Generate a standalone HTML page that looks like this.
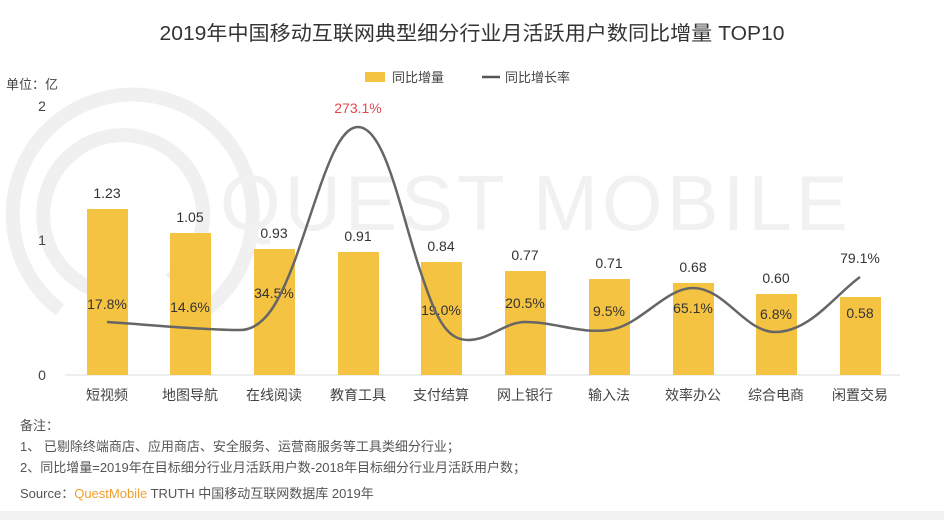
<!DOCTYPE html>
<html><head><meta charset="utf-8"><style>
body{margin:0;background:#fff;}
svg text{font-family:"Liberation Sans","Noto Sans CJK SC",sans-serif;}
</style></head><body>
<svg width="944" height="520" xmlns="http://www.w3.org/2000/svg">
<rect width="944" height="520" fill="#fff"/>
<g fill="none" stroke="#f0f0f0" stroke-width="14">
<path d="M60,310 A120,120 0 1 1 190,320"/>
<path d="M95,290 A80,80 0 1 1 170,280"/>
</g>
<text x="220" y="230" font-size="78" fill="#f1f1f1" letter-spacing="4">QUEST MOBILE</text>
<text x="472" y="40" font-size="20" fill="#333" text-anchor="middle" textLength="625" lengthAdjust="spacingAndGlyphs">2019年中国移动互联网典型细分行业月活跃用户数同比增量 TOP10</text>
<rect x="365" y="72" width="20" height="10" fill="#F5C342"/>
<text x="392" y="82" font-size="13" fill="#444">同比增量</text>
<line x1="482" y1="77" x2="500" y2="77" stroke="#555" stroke-width="2.5"/>
<text x="505" y="82" font-size="13" fill="#444">同比增长率</text>
<text x="6" y="89" font-size="13" fill="#444">单位：亿</text>
<g font-size="14" fill="#444" text-anchor="middle">
<text x="42" y="111">2</text><text x="42" y="245">1</text><text x="42" y="380">0</text>
</g>
<line x1="65" y1="375" x2="900" y2="375" stroke="#ddd" stroke-width="1"/>
<g fill="#F5C342">
<rect x="87" y="209" width="41" height="166"/>
<rect x="170" y="233" width="41" height="142"/>
<rect x="254" y="249" width="41" height="126"/>
<rect x="338" y="252" width="41" height="123"/>
<rect x="421" y="262" width="41" height="113"/>
<rect x="505" y="271" width="41" height="104"/>
<rect x="589" y="279" width="41" height="96"/>
<rect x="673" y="283" width="41" height="92"/>
<rect x="756" y="294" width="41" height="81"/>
<rect x="840" y="297" width="41" height="78"/>
</g>
<g font-size="14" fill="#333" text-anchor="middle">
<text x="107" y="198">1.23</text><text x="190" y="222">1.05</text><text x="274" y="238">0.93</text>
<text x="358" y="241">0.91</text><text x="441" y="251">0.84</text><text x="525" y="260">0.77</text>
<text x="609" y="268">0.71</text><text x="693" y="272">0.68</text><text x="776" y="283">0.60</text>
<text x="860" y="318">0.58</text>
<text x="107" y="309">17.8%</text><text x="190" y="312">14.6%</text><text x="274" y="298">34.5%</text>
<text x="441" y="315">19.0%</text><text x="525" y="308">20.5%</text><text x="609" y="316">9.5%</text>
<text x="693" y="313">65.1%</text><text x="776" y="319">6.8%</text><text x="860" y="263">79.1%</text>
<text x="358" y="113" fill="#E8474F">273.1%</text>
</g>
<path d="M107,322 C140,324 200,330 240,330 C265,330 280,300 295,260 C320,190 335,127 358,127 C385,127 400,210 420,270 C435,315 445,340 468,340 C490,340 505,322 525,322 C555,322 580,334 609,330 C640,326 665,288 693,288 C725,288 745,332 775,332 C810,332 835,295 860,277" fill="none" stroke="#666" stroke-width="2.5"/>
<g font-size="14" fill="#444" text-anchor="middle">
<text x="107" y="400">短视频</text><text x="190" y="400">地图导航</text><text x="274" y="400">在线阅读</text>
<text x="358" y="400">教育工具</text><text x="441" y="400">支付结算</text><text x="525" y="400">网上银行</text>
<text x="609" y="400">输入法</text><text x="693" y="400">效率办公</text><text x="776" y="400">综合电商</text>
<text x="860" y="400">闲置交易</text>
</g>
<g font-size="13" fill="#555">
<text x="20" y="430">备注：</text>
<text x="20" y="451">1、 已剔除终端商店、应用商店、安全服务、运营商服务等工具类细分行业；</text>
<text x="20" y="472">2、同比增量=2019年在目标细分行业月活跃用户数-2018年目标细分行业月活跃用户数；</text>
<text x="20" y="498">Source：<tspan fill="#F0A030">QuestMobile</tspan> TRUTH 中国移动互联网数据库 2019年</text>
</g>
<rect x="0" y="511" width="944" height="9" fill="#f2f2f2"/>
</svg>
</body></html>
